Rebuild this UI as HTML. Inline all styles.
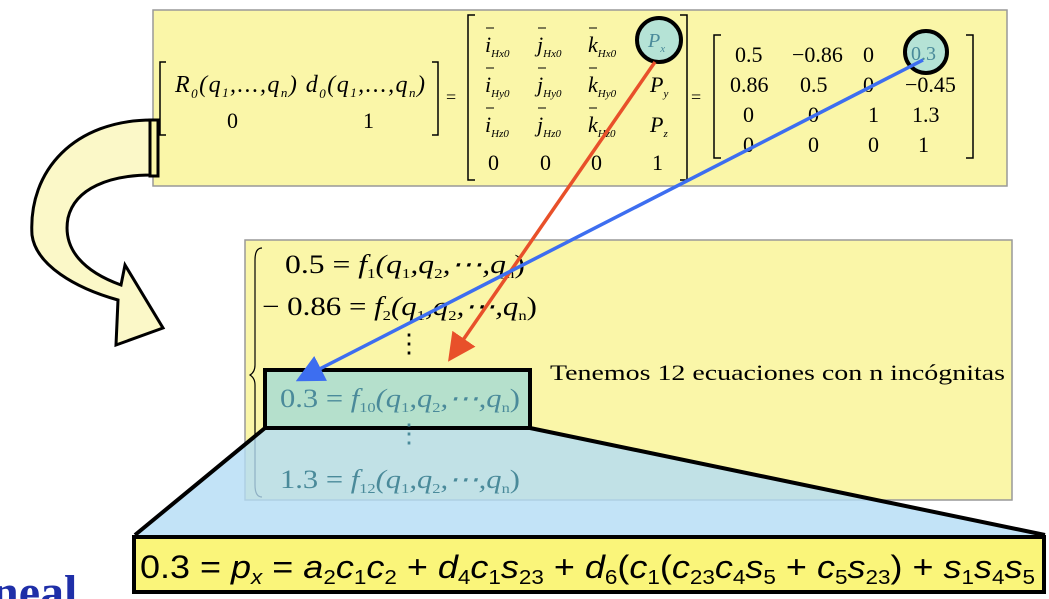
<!DOCTYPE html>
<html><head><meta charset="utf-8"><style>
body{margin:0;background:#fff;}
svg{display:block}
.s{font-family:"Liberation Serif",serif;}
.i{font-style:italic}
</style></head><body>
<svg width="1049" height="599" viewBox="0 0 1049 599" xmlns="http://www.w3.org/2000/svg">
<rect width="1049" height="599" fill="#fff"/>
<g>
<rect x="153" y="10" width="854" height="176" fill="#faf6a8" stroke="#999" stroke-width="1.5"/>
<g class="s" font-size="22" fill="#000">
<path d="M166 62 H160 V135 H166 M432 62 H438 V135 H432" fill="none" stroke="#000" stroke-width="1.5"/>
<text x="175" y="92" class="i" font-size="24" textLength="250">R<tspan font-size="13" dy="6">0</tspan><tspan dy="-6">(q</tspan><tspan font-size="13" dy="5">1</tspan><tspan dy="-5">,...,q</tspan><tspan font-size="13" dy="5">n</tspan><tspan dy="-5">)   d</tspan><tspan font-size="13" dy="6">0</tspan><tspan dy="-6">(q</tspan><tspan font-size="13" dy="5">1</tspan><tspan dy="-5">,...,q</tspan><tspan font-size="13" dy="5">n</tspan><tspan dy="-5">)</tspan></text>
<text x="227" y="128">0</text><text x="363" y="128">1</text>
<text x="446" y="103" font-size="18">=</text>
<path d="M475 15 H468 V180 H475 M680 15 H687 V180 H680" fill="none" stroke="#000" stroke-width="1.5"/>
<g class="i">
<text x="485" y="52">i<tspan font-size="11" dy="5">Hx0</tspan></text>
<text x="537" y="52">j<tspan font-size="11" dy="5">Hx0</tspan></text>
<text x="588" y="52">k<tspan font-size="11" dy="5">Hx0</tspan></text>
<text x="485" y="92">i<tspan font-size="11" dy="5">Hy0</tspan></text>
<text x="537" y="92">j<tspan font-size="11" dy="5">Hy0</tspan></text>
<text x="588" y="92">k<tspan font-size="11" dy="5">Hy0</tspan></text>
<text x="485" y="132">i<tspan font-size="11" dy="5">Hz0</tspan></text>
<text x="537" y="132">j<tspan font-size="11" dy="5">Hz0</tspan></text>
<text x="588" y="132">k<tspan font-size="11" dy="5">Hz0</tspan></text>
<text x="650" y="92">P<tspan font-size="11" dy="5">y</tspan></text>
<text x="650" y="132">P<tspan font-size="11" dy="5">z</tspan></text>
</g>
<path d="M486 28 h8 M538 28 h8 M589 28 h8 M486 68 h8 M538 68 h8 M589 68 h8 M486 108 h8 M538 108 h8 M589 108 h8" stroke="#000" stroke-width="1"/>
<text x="488" y="170">0</text><text x="540" y="170">0</text><text x="591" y="170">0</text><text x="652" y="170">1</text>
<text x="691" y="103" font-size="18">=</text>
<path d="M721 35 H714 V158 H721 M966 35 H973 V158 H966" fill="none" stroke="#000" stroke-width="1.5"/>
<text x="735" y="62">0.5</text><text x="792" y="62">−0.86</text><text x="863" y="62">0</text>
<text x="730" y="92">0.86</text><text x="800" y="92">0.5</text><text x="863" y="92">0</text><text x="905" y="92">−0.45</text>
<text x="743" y="122">0</text><text x="808" y="122">0</text><text x="868" y="122">1</text><text x="912" y="122">1.3</text>
<text x="743" y="152">0</text><text x="808" y="152">0</text><text x="868" y="152">0</text><text x="918" y="152">1</text>
</g>
<circle cx="659" cy="40" r="22" fill="#b5e3d6" stroke="#000" stroke-width="4"/>
<text x="648" y="47" class="s i" font-size="20" fill="#4a8a9a">P<tspan font-size="11" dy="5">x</tspan></text>
<circle cx="926" cy="52" r="21" fill="#b5e3d6" stroke="#000" stroke-width="4"/>
<text x="911" y="60" class="s" font-size="20" fill="#4a8a9a">0.3</text>
</g>
<path d="M152 120 C75 120 28 170 32 235 C36 265 75 288 118 300 L116 345 L163 328 L125 265 L121 285 C85 272 62 250 68 218 C75 188 110 175 152 175 Z" fill="#fbf8c8" stroke="#000" stroke-width="3" stroke-linejoin="miter"/>
<rect x="150" y="120" width="8" height="56" fill="#faf6a8" stroke="#000" stroke-width="3"/>
<g>
<rect x="245" y="240" width="767" height="260" fill="#faf6a8" stroke="#999" stroke-width="1.5"/>
<path d="M262 248 Q255 248 255 260 V365 Q255 372 250 375 Q255 378 255 385 V485 Q255 497 262 497" fill="none" stroke="#000" stroke-width="1.2"/>
<g class="s" font-size="26" fill="#000">
<text x="285" y="273" textLength="240" lengthAdjust="spacingAndGlyphs">0.5 = <tspan class="i">f</tspan><tspan font-size="14" dy="5">1</tspan><tspan dy="-5" class="i">(q</tspan><tspan font-size="14" dy="5">1</tspan><tspan dy="-5" class="i">,q</tspan><tspan font-size="14" dy="5">2</tspan><tspan dy="-5" class="i">,⋯,q</tspan><tspan font-size="14" dy="5">n</tspan><tspan dy="-5">)</tspan></text>
<text x="262" y="315" textLength="275" lengthAdjust="spacingAndGlyphs">− 0.86 = <tspan class="i">f</tspan><tspan font-size="14" dy="5">2</tspan><tspan dy="-5" class="i">(q</tspan><tspan font-size="14" dy="5">1</tspan><tspan dy="-5" class="i">,q</tspan><tspan font-size="14" dy="5">2</tspan><tspan dy="-5" class="i">,⋯,q</tspan><tspan font-size="14" dy="5">n</tspan><tspan dy="-5">)</tspan></text>
<text x="396" y="352">⋮</text>
<text x="550" y="380" font-size="22" textLength="455" lengthAdjust="spacingAndGlyphs">Tenemos 12 ecuaciones con n incógnitas</text>
</g>
</g>
<polygon points="265,428 530,428 1045,535 135,535" fill="#b3dcf5" fill-opacity="0.8"/>
<path d="M265 428 L135 535 M530 428 L1045 535" stroke="#000" stroke-width="4"/>
<rect x="265" y="370" width="265" height="58" fill="#b5e0cc" stroke="#000" stroke-width="4"/>
<g class="s" font-size="26" fill="#4a8a9a">
<text x="280" y="407" textLength="240" lengthAdjust="spacingAndGlyphs">0.3 = <tspan class="i">f</tspan><tspan font-size="14" dy="5">10</tspan><tspan dy="-5" class="i">(q</tspan><tspan font-size="14" dy="5">1</tspan><tspan dy="-5" class="i">,q</tspan><tspan font-size="14" dy="5">2</tspan><tspan dy="-5" class="i">,⋯,q</tspan><tspan font-size="14" dy="5">n</tspan><tspan dy="-5">)</tspan></text>
<text x="396" y="442">⋮</text>
<text x="280" y="488" textLength="240" lengthAdjust="spacingAndGlyphs">1.3 = <tspan class="i">f</tspan><tspan font-size="14" dy="5">12</tspan><tspan dy="-5" class="i">(q</tspan><tspan font-size="14" dy="5">1</tspan><tspan dy="-5" class="i">,q</tspan><tspan font-size="14" dy="5">2</tspan><tspan dy="-5" class="i">,⋯,q</tspan><tspan font-size="14" dy="5">n</tspan><tspan dy="-5">)</tspan></text>
</g>
<defs>
<marker id="ar" markerWidth="8" markerHeight="8" refX="6" refY="4" orient="auto"><path d="M0 0 L8 4 L0 8 Z" fill="#e8502a"/></marker>
<marker id="ab" markerWidth="8" markerHeight="8" refX="6" refY="4" orient="auto"><path d="M0 0 L8 4 L0 8 Z" fill="#3d6ef0"/></marker>
</defs>
<line x1="655" y1="62" x2="452" y2="356" stroke="#e8502a" stroke-width="3.5" marker-end="url(#ar)"/>
<line x1="923" y1="60" x2="302" y2="378" stroke="#3d6ef0" stroke-width="3.5" marker-end="url(#ab)"/>
<g>
<rect x="134" y="537" width="910" height="55" fill="#faf57a" stroke="#000" stroke-width="4"/>
<text x="140" y="578" font-family="Liberation Sans, sans-serif" font-size="32" fill="#000" textLength="895" lengthAdjust="spacingAndGlyphs">0.3 = <tspan class="i">p</tspan><tspan font-size="20" dy="6" class="i">x</tspan><tspan dy="-6"> = </tspan><tspan class="i">a</tspan><tspan font-size="20" dy="6">2</tspan><tspan dy="-6" class="i">c</tspan><tspan font-size="20" dy="6">1</tspan><tspan dy="-6" class="i">c</tspan><tspan font-size="20" dy="6">2</tspan><tspan dy="-6"> + </tspan><tspan class="i">d</tspan><tspan font-size="20" dy="6">4</tspan><tspan dy="-6" class="i">c</tspan><tspan font-size="20" dy="6">1</tspan><tspan dy="-6" class="i">s</tspan><tspan font-size="20" dy="6">23</tspan><tspan dy="-6"> + </tspan><tspan class="i">d</tspan><tspan font-size="20" dy="6">6</tspan><tspan dy="-6">(</tspan><tspan class="i">c</tspan><tspan font-size="20" dy="6">1</tspan><tspan dy="-6">(</tspan><tspan class="i">c</tspan><tspan font-size="20" dy="6">23</tspan><tspan dy="-6" class="i">c</tspan><tspan font-size="20" dy="6">4</tspan><tspan dy="-6" class="i">s</tspan><tspan font-size="20" dy="6">5</tspan><tspan dy="-6"> + </tspan><tspan class="i">c</tspan><tspan font-size="20" dy="6">5</tspan><tspan dy="-6" class="i">s</tspan><tspan font-size="20" dy="6">23</tspan><tspan dy="-6">) + </tspan><tspan class="i">s</tspan><tspan font-size="20" dy="6">1</tspan><tspan dy="-6" class="i">s</tspan><tspan font-size="20" dy="6">4</tspan><tspan dy="-6" class="i">s</tspan><tspan font-size="20" dy="6">5</tspan></text>
</g>
<text x="-8" y="608" font-family="Liberation Serif, serif" font-weight="bold" font-size="48" fill="#1f2fa8">neal</text>
</svg>
</body></html>
